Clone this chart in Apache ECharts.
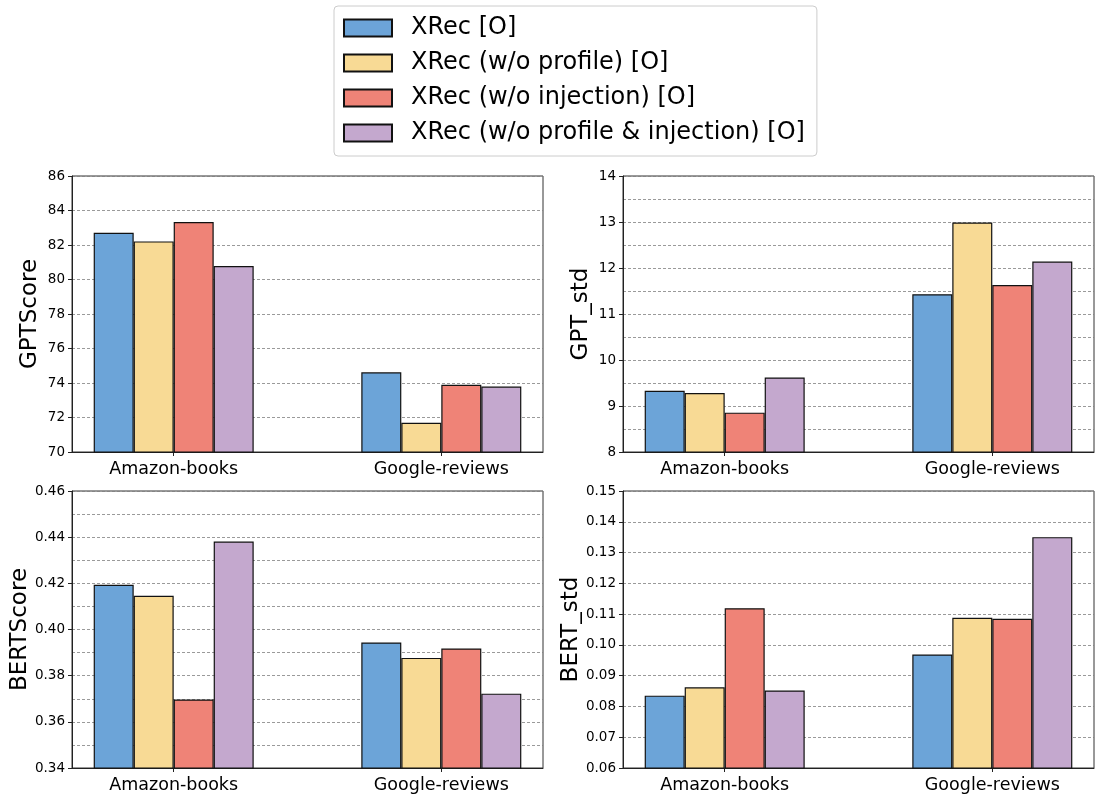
<!DOCTYPE html>
<html>
<head>
<meta charset="utf-8">
<script src="https://cdn.jsdelivr.net/npm/echarts@6/dist/echarts.min.js"></script>
<style>
html,body{margin:0;padding:0;background:#fff;}
#chart{width:1100px;height:801px;}
</style>
</head>
<body>
<div id="chart"></div>
<script>
const categories = ['Amazon-books', 'Google-reviews'];
const seriesNames = ['XRec [O]', 'XRec (w/o profile) [O]', 'XRec (w/o injection) [O]', 'XRec (w/o profile & injection) [O]'];
const colors = ['#6CA4D8', '#F8DA95', '#EF8377', '#C4A8CE'];

// values per metric: [series][category]
const gptScore = [[82.71, 74.62], [82.21, 71.70], [83.33, 73.90], [80.78, 73.79]];
const gptStd = [[9.33, 11.43], [9.28, 12.99], [8.855, 11.63], [9.62, 12.14]];
const bertScore = [[0.4194, 0.3944], [0.4146, 0.3877], [0.3697, 0.3918], [0.4381, 0.3722]];
const bertStd = [[0.0835, 0.0969], [0.0862, 0.1088], [0.1119, 0.1085], [0.0852, 0.1350]];

const metricNames = ['GPTScore', 'GPT_std', 'BERTScore', 'BERT_std'];
const metricData = [gptScore, gptStd, bertScore, bertStd];
const yMin = [70, 8, 0.34, 0.06];
const yMax = [86, 14, 0.46, 0.15];
const yInterval = [2, 1, 0.02, 0.01];
const yDecimals = [0, 0, 2, 2];
const yMinor = [false, true, true, false];
const nameGaps = [30, 30, 37, 40];

const FONT = 'DejaVu Sans';
const grids = [
  {left: 72, top: 176, width: 471, height: 276},
  {left: 623, top: 176, width: 471, height: 276},
  {left: 72, top: 491, width: 471, height: 277},
  {left: 623, top: 491, width: 471, height: 277}
];

const gridLine = {show: true, lineStyle: {color: '#808080', width: 0.8, type: [3, 2]}};

const option = {
  animation: false,
  backgroundColor: '#fff',
  legend: {
    orient: 'vertical',
    left: 334, top: 6,
    data: seriesNames,
    itemWidth: 48, itemHeight: 17, itemGap: 11,
    padding: [10, 12, 11, 9],
    borderColor: '#cccccc', borderWidth: 1, borderRadius: 4,
    textStyle: {fontFamily: FONT, fontSize: 24, color: '#000', lineHeight: 24, padding: [0, 0, 0, 14]},
    icon: 'rect'
  },
  grid: grids.map(g => Object.assign({show: true, borderColor: '#333', borderWidth: 1, backgroundColor: 'transparent', containLabel: false}, g)),
  xAxis: grids.map((g, i) => ({
    type: 'value', gridIndex: i, min: -0.38, max: 1.38,
    splitLine: {show: false},
    axisLine: {show: true, onZero: false, lineStyle: {color: '#222', width: 1}},
    axisTick: {show: true, customValues: [0, 1], length: 4, lineStyle: {color: '#222'}},
    axisLabel: {customValues: [0, 1], margin: 8, fontFamily: FONT, fontSize: 17.5, color: '#000',
      formatter: v => categories[Math.round(v)]}
  })),
  yAxis: grids.map((g, i) => ({
    type: 'value', gridIndex: i, min: yMin[i], max: yMax[i], interval: yInterval[i],
    name: metricNames[i], nameLocation: 'middle', nameGap: nameGaps[i],
    nameTextStyle: {fontFamily: FONT, fontSize: 23, color: '#000'},
    axisLine: {show: true, onZero: false, lineStyle: {color: '#222', width: 1}},
    axisTick: {show: true, length: 4, lineStyle: {color: '#222'}},
    axisLabel: {margin: 7, fontFamily: FONT, fontSize: 13.5, color: '#000',
      formatter: v => Number(v).toFixed(yDecimals[i])},
    splitLine: gridLine,
    minorTick: {show: false, splitNumber: 2},
    minorSplitLine: {show: yMinor[i], lineStyle: {color: '#808080', width: 0.8, type: [3, 2]}}
  })),
  series: []
};

metricData.forEach((data, gi) => {
  data.forEach((vals, si) => {
    option.series.push({
      type: 'bar', name: seriesNames[si],
      xAxisIndex: gi, yAxisIndex: gi,
      barWidth: 40, barGap: '0%',
      itemStyle: {color: colors[si], borderColor: '#111', borderWidth: 1.2},
      data: vals.map((v, ci) => [ci, v])
    });
  });
});

const chart = echarts.init(document.getElementById('chart'), null, {renderer: 'canvas'});
chart.setOption(option);
</script>
</body>
</html>
